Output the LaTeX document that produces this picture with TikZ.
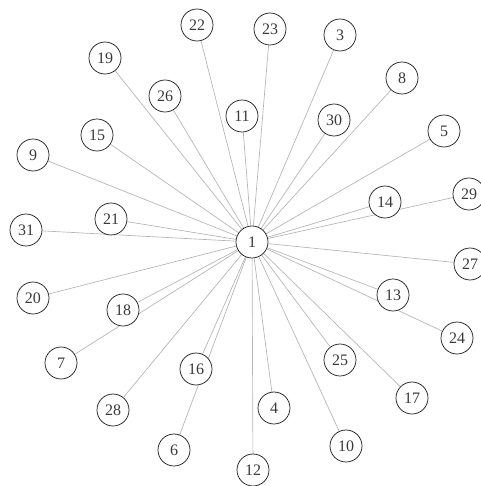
\documentclass[tikz,border=0pt]{standalone}
\usepackage{fontspec}
\setmainfont{Liberation Serif}
\usetikzlibrary{backgrounds}
\definecolor{EdgeGray}{HTML}{B4B4B4}
\definecolor{RimGray}{HTML}{1E1E1E}
\definecolor{TextGray}{HTML}{3A3A3A}
\tikzset{
  vertex/.style={circle, draw=RimGray, line width=0.55pt, fill=white, minimum size=24pt, inner sep=0pt, text=TextGray, font=\fontsize{12}{12}\selectfont},
  edge/.style={draw=EdgeGray, line width=0.5pt}
}
\begin{document}
\begin{tikzpicture}[x=0.75pt, y=-0.75pt]
\useasboundingbox (0,0) rectangle (481,486);

\node[vertex] (n1) at (252,242) {1};

\node[vertex] (n22) at (197,25) {22};
\node[vertex] (n23) at (270,29) {23};
\node[vertex] (n3) at (340,35) {3};
\node[vertex] (n19) at (105,58) {19};
\node[vertex] (n8) at (402,78) {8};
\node[vertex] (n26) at (165,96) {26};
\node[vertex] (n11) at (242,116) {11};
\node[vertex] (n30) at (334,120) {30};
\node[vertex] (n5) at (444,131) {5};
\node[vertex] (n15) at (97,135) {15};
\node[vertex] (n9) at (33,155) {9};
\node[vertex] (n14) at (385,202) {14};
\node[vertex] (n29) at (469,194) {29};
\node[vertex] (n21) at (111,219) {21};
\node[vertex] (n31) at (26,230) {31};
\node[vertex] (n27) at (470,264) {27};
\node[vertex] (n20) at (33,298) {20};
\node[vertex] (n13) at (393,295) {13};
\node[vertex] (n18) at (123,310) {18};
\node[vertex] (n24) at (457,338) {24};
\node[vertex] (n7) at (61,363) {7};
\node[vertex] (n25) at (340,360) {25};
\node[vertex] (n16) at (196,369) {16};
\node[vertex] (n17) at (412,398) {17};
\node[vertex] (n4) at (274,408) {4};
\node[vertex] (n28) at (113,410) {28};
\node[vertex] (n10) at (346,446) {10};
\node[vertex] (n6) at (174,450) {6};
\node[vertex] (n12) at (253,470) {12};

\begin{scope}[on background layer]
\draw[edge] (n1) -- (n22);
\draw[edge] (n1) -- (n23);
\draw[edge] (n1) -- (n3);
\draw[edge] (n1) -- (n19);
\draw[edge] (n1) -- (n8);
\draw[edge] (n1) -- (n26);
\draw[edge] (n1) -- (n11);
\draw[edge] (n1) -- (n30);
\draw[edge] (n1) -- (n5);
\draw[edge] (n1) -- (n15);
\draw[edge] (n1) -- (n9);
\draw[edge] (n1) -- (n14);
\draw[edge] (n1) -- (n29);
\draw[edge] (n1) -- (n21);
\draw[edge] (n1) -- (n31);
\draw[edge] (n1) -- (n27);
\draw[edge] (n1) -- (n20);
\draw[edge] (n1) -- (n13);
\draw[edge] (n1) -- (n18);
\draw[edge] (n1) -- (n24);
\draw[edge] (n1) -- (n7);
\draw[edge] (n1) -- (n25);
\draw[edge] (n1) -- (n16);
\draw[edge] (n1) -- (n17);
\draw[edge] (n1) -- (n4);
\draw[edge] (n1) -- (n28);
\draw[edge] (n1) -- (n10);
\draw[edge] (n1) -- (n6);
\draw[edge] (n1) -- (n12);
\end{scope}
\end{tikzpicture}
\end{document}
